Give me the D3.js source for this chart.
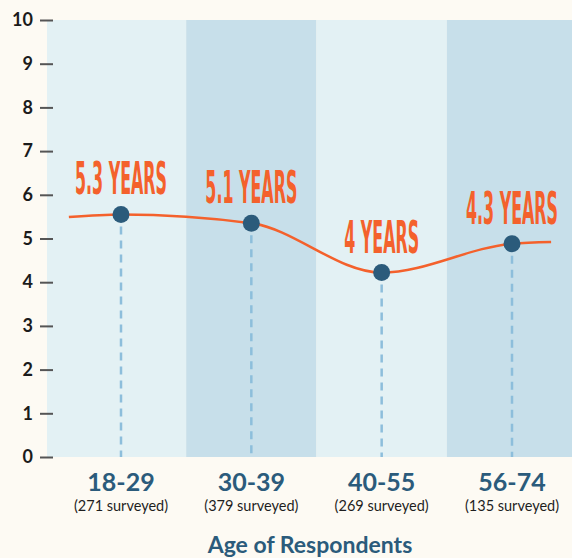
<!DOCTYPE html>
<html><head><meta charset="utf-8">
<script src="https://cdn.jsdelivr.net/npm/d3@7"></script>
<style>
html,body{margin:0;padding:0;background:#fdfaf3;}
svg{display:block;}
</style></head>
<body>
<script>
const categories = ["18-29", "30-39", "40-55", "56-74"];
const surveyed = ["(271 surveyed)", "(379 surveyed)", "(269 surveyed)", "(135 surveyed)"];
const values = [5.55, 5.35, 4.22, 4.88];
const valueLabels = ["5.3 YEARS", "5.1 YEARS", "4 YEARS", "4.3 YEARS"];
const yTicks = [0, 1, 2, 3, 4, 5, 6, 7, 8, 9, 10];
const lineEnds = [5.49, 4.92];
const axisTitle = "Age of Respondents";

(function () {
const W = 572, H = 558;
const svg = d3.select("body").append("svg").attr("width", W).attr("height", H);
svg.append("rect").attr("width", W).attr("height", H).attr("fill", "#fdfaf3");

const plotLeft = 47, plotRight = W, plotTop = 20, plotBottom = 457;
const y = d3.scaleLinear().domain([0, 10]).range([plotBottom, plotTop]);
const x = d3.scalePoint().domain(categories).range([121, 512]);
const xi = d3.scaleLinear().domain([0, categories.length - 1]).range([121, 512]);

// bands
const edges = [plotLeft];
for (let i = 0; i < categories.length - 1; i++) edges.push((x(categories[i]) + x(categories[i + 1])) / 2);
edges.push(plotRight);
const bandColors = ["#e3f1f4", "#c7dfea"];
svg.append("g").selectAll("rect").data(categories).join("rect")
  .attr("x", (d, i) => edges[i]).attr("y", plotTop)
  .attr("width", (d, i) => edges[i + 1] - edges[i]).attr("height", plotBottom - plotTop)
  .attr("fill", (d, i) => bandColors[i % 2]);

// y axis
const yAxis = svg.append("g").attr("transform", `translate(53,0)`)
  .call(d3.axisLeft(y).tickValues(yTicks).tickSize(13).tickPadding(7).tickFormat(d3.format("d")));
yAxis.select(".domain").remove();
yAxis.selectAll(".tick line").attr("stroke", "#555").attr("stroke-width", 2);
yAxis.selectAll(".tick text").attr("fill", "#1b1b1b")
  .style("font-family", "Lato, 'Open Sans', sans-serif").style("font-weight", "700").style("font-size", "18px");

// dashed drops
svg.append("g").selectAll("line").data(values).join("line")
  .attr("x1", (d, i) => x(categories[i])).attr("x2", (d, i) => x(categories[i]))
  .attr("y1", d => y(d) + 12).attr("y2", plotBottom)
  .attr("stroke", "#8dbedb").attr("stroke-width", 2.5).attr("stroke-dasharray", "8,6");

// smooth line
const lineData = [{i: -0.4, v: lineEnds[0]}]
  .concat(values.map((v, i) => ({i, v})))
  .concat([{i: 3.3, v: lineEnds[1]}]);
const line = d3.line().x(d => xi(d.i)).y(d => y(d.v)).curve(d3.curveMonotoneX);
svg.append("path").datum(lineData).attr("d", line)
  .attr("fill", "none").attr("stroke", "#f4612c").attr("stroke-width", 2.5);

// dots
svg.append("g").selectAll("circle").data(values).join("circle")
  .attr("cx", (d, i) => x(categories[i])).attr("cy", d => y(d)).attr("r", 8.5)
  .attr("fill", "#2b5b7b");

// value labels (condensed)
const vl = svg.append("g").selectAll("text").data(values).join("text")
  .attr("text-anchor", "middle")
  .attr("fill", "#f4612c")
  .style("font-family", "'DejaVu Sans Condensed', 'DejaVu Sans', sans-serif")
  .style("font-weight", "600")
  .style("font-size", "44px")
  .text((d, i) => valueLabels[i]);
const w0 = vl.nodes()[0].getComputedTextLength() || 180;
const sx = 92 / w0;
vl.attr("transform", (d, i) => `translate(${x(categories[i])},${y(d) - 20}) scale(${sx},1)`);

// category labels
svg.append("g").selectAll("text").data(categories).join("text")
  .attr("x", d => x(d)).attr("y", 491).attr("text-anchor", "middle")
  .attr("fill", "#2b5b7b")
  .style("font-family", "Lato, sans-serif").style("font-weight", "700").style("font-size", "25px")
  .text(d => d);
svg.append("g").selectAll("text").data(surveyed).join("text")
  .attr("x", (d, i) => x(categories[i])).attr("y", 511).attr("text-anchor", "middle")
  .attr("fill", "#1e1e1e")
  .style("font-family", "Lato, sans-serif").style("font-size", "14.5px")
  .text(d => d);

svg.append("text").attr("x", 310).attr("y", 553).attr("text-anchor", "middle")
  .attr("fill", "#2b5b7b")
  .style("font-family", "Lato, sans-serif").style("font-weight", "700").style("font-size", "23px")
  .text(axisTitle);
})();
</script>
</body></html>
